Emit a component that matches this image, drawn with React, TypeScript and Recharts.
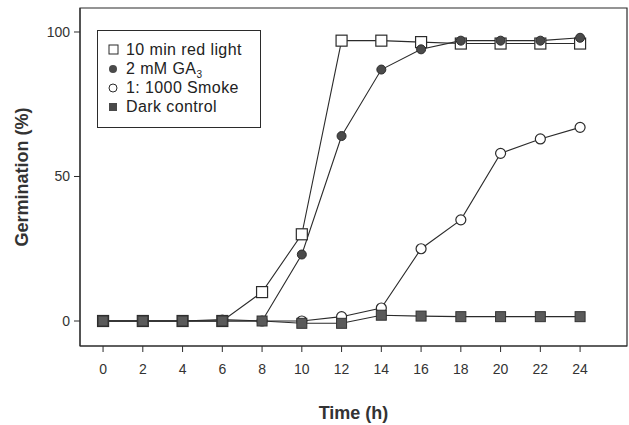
import React from 'react';
import { LineChart, Line, XAxis, YAxis, ReferenceArea } from 'recharts';

const hours = [0, 2, 4, 6, 8, 10, 12, 14, 16, 18, 20, 22, 24];
const redLight = [0, 0, 0, 0, 10, 30, 97, 97, 96.5, 96, 96, 96, 96];
const ga3 = [0, 0, 0, 0.5, 0, 23, 64, 87, 94, 97, 97, 97, 98];
const smoke = [0, 0, 0, 0, 0, 0, 1.5, 4.5, 25, 35, 58, 63, 67];
const darkControl = [0, 0, 0, 0, 0, -0.8, -0.8, 2, 1.7, 1.5, 1.5, 1.5, 1.5];
const yTicks = [0, 50, 100];

const data = hours.map((h, i) => ({
  h,
  red: redLight[i],
  ga: ga3[i],
  smoke: smoke[i],
  dark: darkControl[i],
}));

const INK = '#2b2b2b';
const FONT = '"Liberation Sans", Arial, sans-serif';

type DotProps = { cx?: number; cy?: number; index?: number };

const openSquare = (p: DotProps) => (
  <rect key={`rs${p.index}`} x={(p.cx ?? 0) - 5.5} y={(p.cy ?? 0) - 5.5} width={11} height={11}
    fill="#fff" stroke={INK} strokeWidth={1.2} />
);
const filledCircle = (p: DotProps) => (
  <circle key={`gc${p.index}`} cx={p.cx} cy={p.cy} r={4.5} fill="#4a4a4a" stroke={INK} strokeWidth={1} />
);
const openCircle = (p: DotProps) => (
  <circle key={`sc${p.index}`} cx={p.cx} cy={p.cy} r={5} fill="#fff" stroke={INK} strokeWidth={1.2} />
);
const darkSquare = (p: DotProps) => (
  <rect key={`ds${p.index}`} x={(p.cx ?? 0) - 5} y={(p.cy ?? 0) - 5} width={10} height={10}
    fill="#5a5a5a" stroke="#333" strokeWidth={1} />
);

function LegendBox() {
  const row = { display: 'flex', alignItems: 'center', height: 19, whiteSpace: 'nowrap' } as const;
  const mark = { width: 14, display: 'flex', justifyContent: 'center', marginRight: 6 } as const;
  return (
    <div style={{
      position: 'absolute', left: 97, top: 30,
      border: `1.2px solid ${INK}`, width: 164, height: 98, boxSizing: 'border-box',
      padding: '9px 0 0 8px', fontFamily: FONT, fontSize: 16, letterSpacing: 0.4, color: '#222', background: '#fff',
    }}>
      <div style={row}>
        <span style={mark}><svg width={11} height={11}><rect x={1} y={1} width={9} height={9} fill="#fff" stroke={INK} /></svg></span>
        <span>10 min red light</span>
      </div>
      <div style={row}>
        <span style={mark}><svg width={10} height={10}><circle cx={5} cy={5} r={4} fill="#4a4a4a" /></svg></span>
        <span>2 mM GA<span style={{ fontSize: 10, position: 'relative', top: 4 }}>3</span></span>
      </div>
      <div style={row}>
        <span style={mark}><svg width={10} height={10}><circle cx={5} cy={5} r={4} fill="#fff" stroke={INK} /></svg></span>
        <span>1: 1000 Smoke</span>
      </div>
      <div style={row}>
        <span style={mark}><svg width={10} height={10}><rect x={1} y={1} width={8} height={8} fill="#4a4a4a" /></svg></span>
        <span>Dark control</span>
      </div>
    </div>
  );
}

export default function App() {
  const xDomain: [number, number] = [-1.16, 26.36];
  const yDomain: [number, number] = [-8.65, 108.3];
  return (
    <div style={{ position: 'absolute', left: 0, top: 0, width: 629, height: 425, background: '#fff' }}>
      <LineChart width={629} height={425} data={data} margin={{ top: 8, right: 2, left: 0, bottom: 0 }}>
        <XAxis
          dataKey="h"
          type="number"
          domain={xDomain}
          ticks={hours}
          allowDataOverflow
          height={79}
          tickSize={6}
          tickMargin={12}
          stroke={INK}
          tick={{ fill: '#333', fontSize: 14, fontFamily: FONT }}
          label={{ value: 'Time (h)', position: 'insideBottom', offset: 6, fill: '#333', fontSize: 18, fontWeight: 'bold', fontFamily: FONT }}
        />
        <YAxis
          type="number"
          domain={yDomain}
          ticks={yTicks}
          allowDataOverflow
          width={80}
          tickSize={6}
          tickMargin={4}
          stroke={INK}
          tick={{ fill: '#333', fontSize: 14, fontFamily: FONT }}
          label={{ value: 'Germination (%)', angle: -90, position: 'insideLeft', offset: 22, fill: '#333', fontSize: 18, fontWeight: 'bold', fontFamily: FONT, style: { textAnchor: 'middle' } }}
        />
        <ReferenceArea x1={xDomain[0]} x2={xDomain[1]} y1={yDomain[0]} y2={yDomain[1]} fill="none" stroke={INK} strokeWidth={1.2} />
        <Line dataKey="red" stroke={INK} strokeWidth={1.1} dot={openSquare} isAnimationActive={false} />
        <Line dataKey="ga" stroke={INK} strokeWidth={1.1} dot={filledCircle} isAnimationActive={false} />
        <Line dataKey="smoke" stroke={INK} strokeWidth={1.1} dot={openCircle} isAnimationActive={false} />
        <Line dataKey="dark" stroke={INK} strokeWidth={1.1} dot={darkSquare} isAnimationActive={false} />
      </LineChart>
      <LegendBox />
    </div>
  );
}
